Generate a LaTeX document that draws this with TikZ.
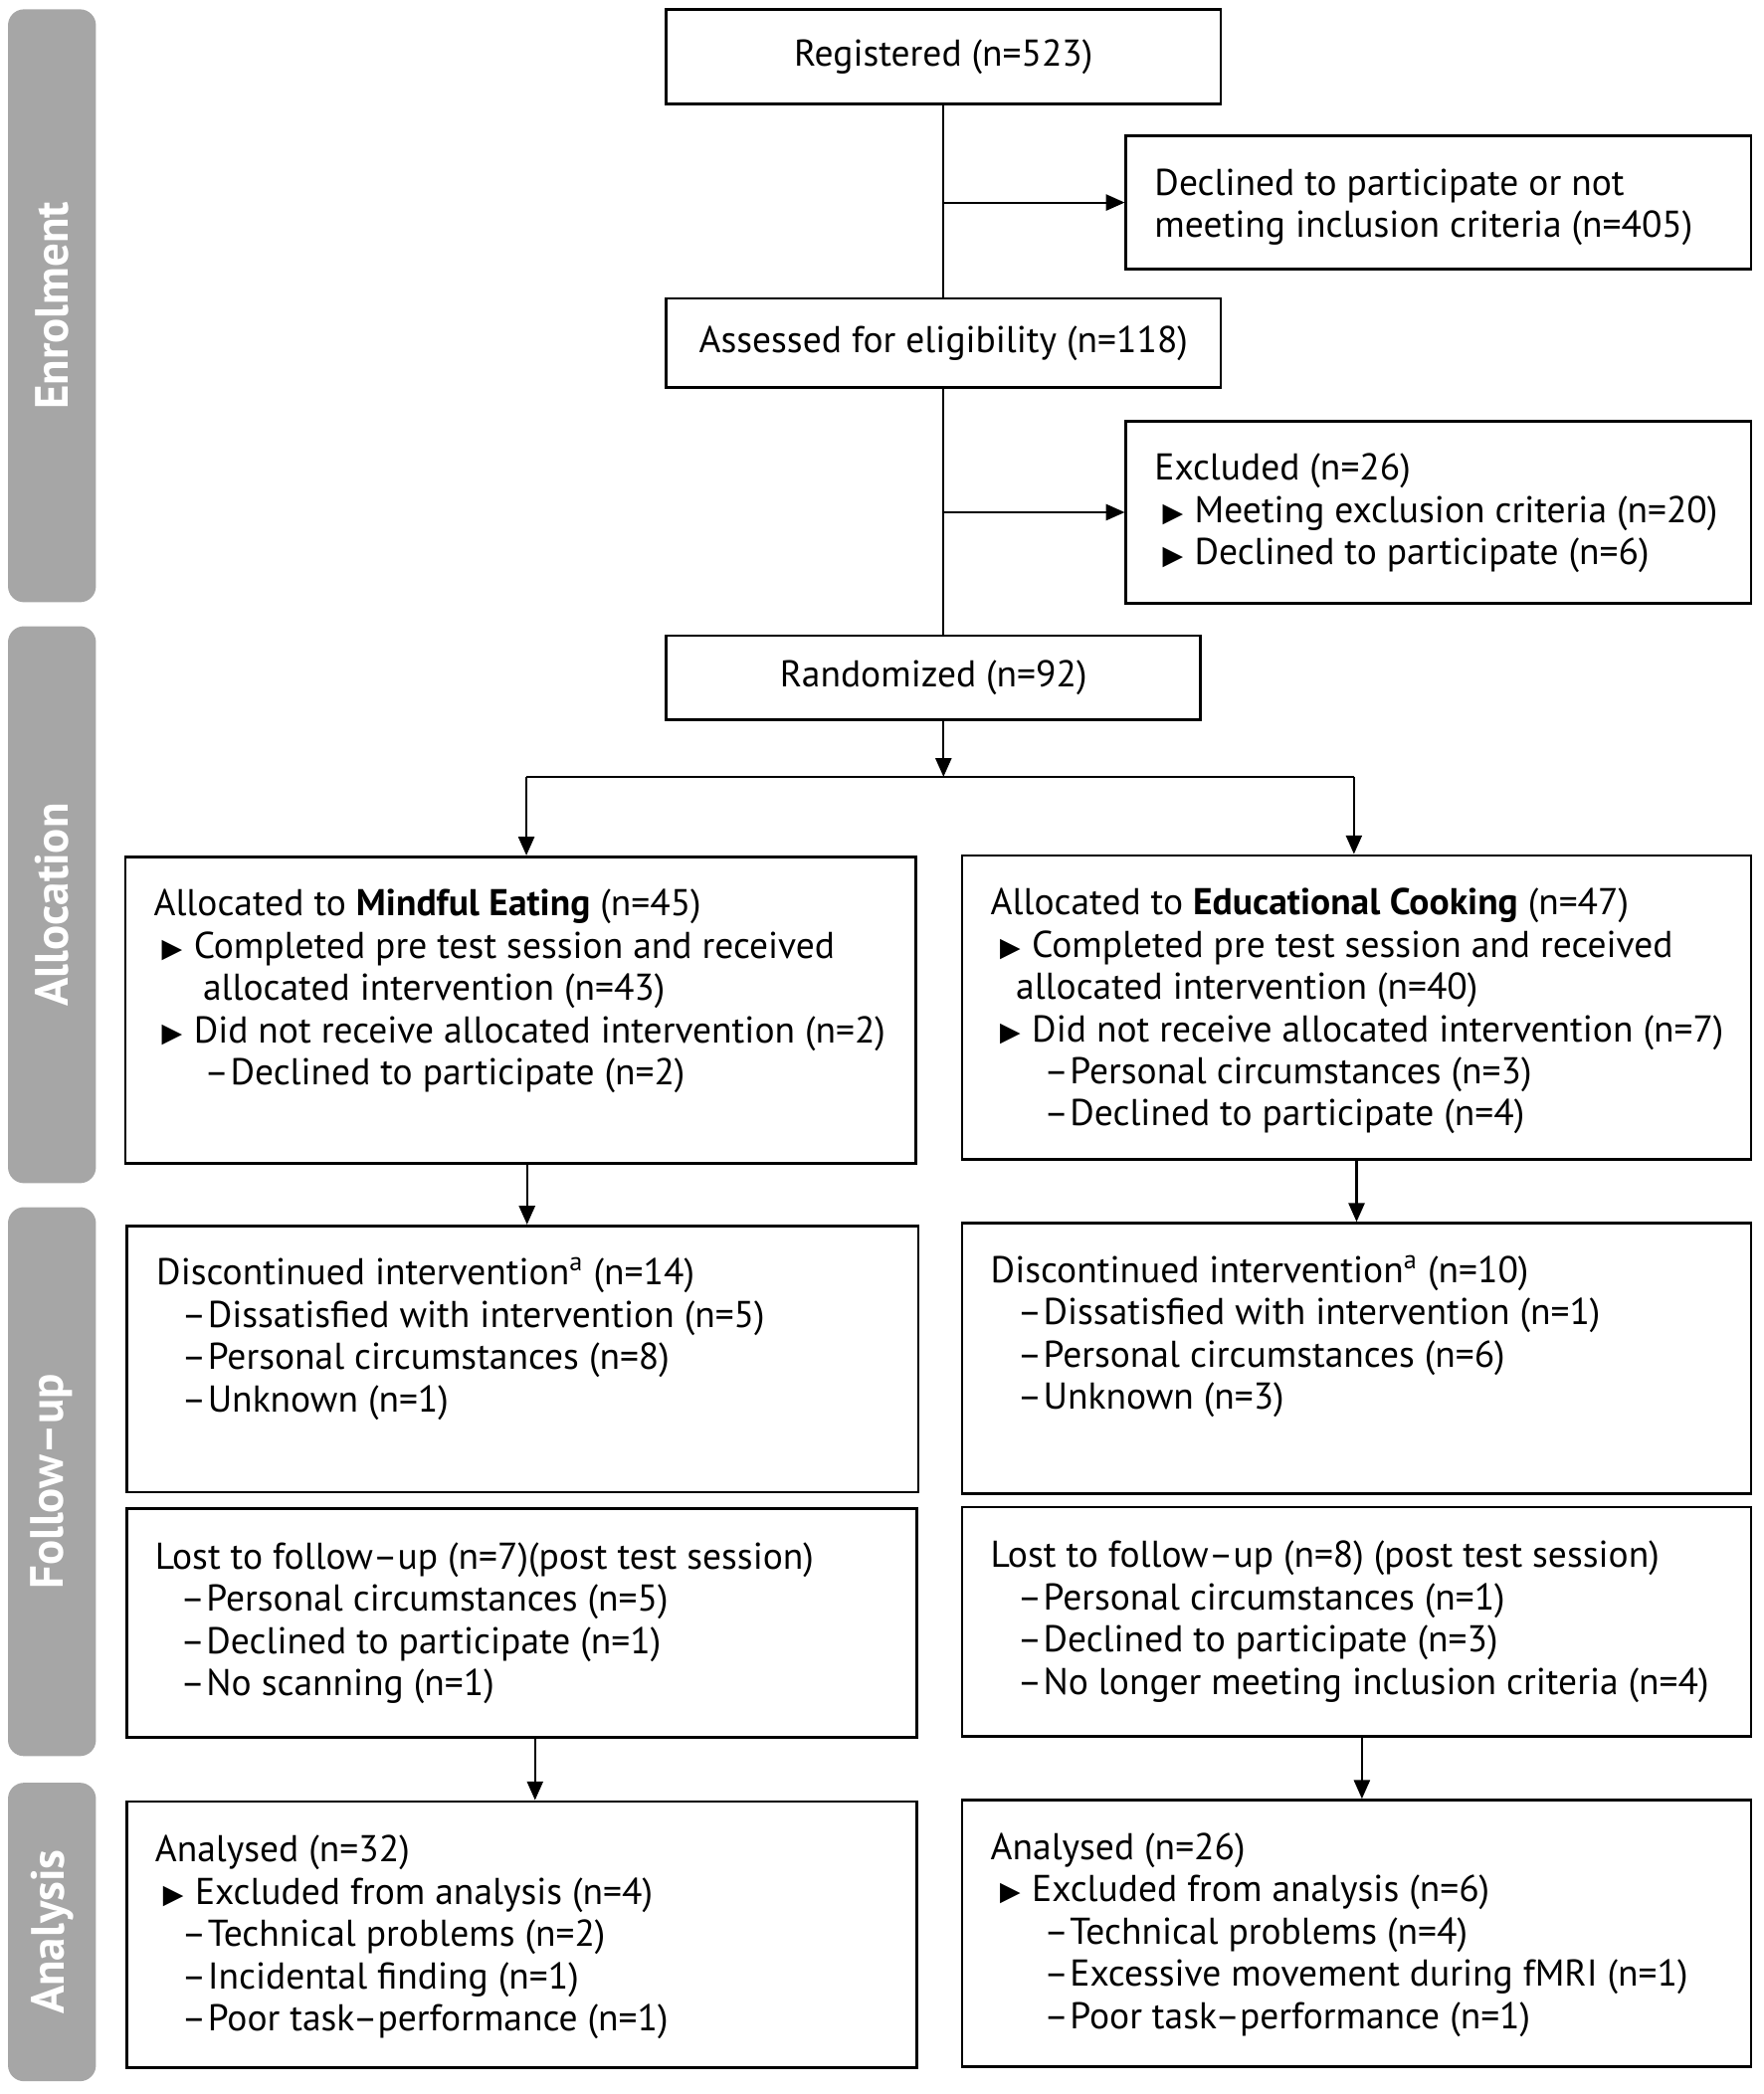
\documentclass[tikz,border=0pt]{standalone}
\usepackage{fontspec}
\setmainfont{PT Sans}
\newfontfamily\symfont{DejaVu Sans}
\usetikzlibrary{arrows.meta}
\definecolor{bandgray}{HTML}{A6A6A6}
\newcommand\tri{\makebox[12pt][l]{\raisebox{0.3pt}{\symfont\fontsize{10}{10}\selectfont ▶}}}
\newcommand\dsh{\makebox[9.75pt][l]{–}}
\tikzset{
  box/.style={draw, line width=1pt, inner sep=0pt},
  txt/.style={anchor=north west, inner sep=0pt, align=left, font=\fontsize{14}{15.85}\selectfont},
  ctxt/.style={font=\fontsize{14}{15.85}\selectfont},
  band/.style={fill=bandgray, rounded corners=6pt, inner sep=0pt, rotate=90, text=white, font=\fontsize{17.5}{18}\selectfont\bfseries},
  conn/.style={line width=0.8pt},
  arr/.style={line width=0.8pt, -{Triangle[length=7pt,width=6pt]}}
}
\begin{document}
\begin{tikzpicture}[x=0.5pt,y=-0.5pt]
\useasboundingbox (0,0) rectangle (1323,1571.6);
% side bands
\node[band, minimum width=222.5pt, minimum height=33pt] (bEnr) at (39,229.5) {Enrolment};
\node[band, minimum width=209pt, minimum height=33pt] (bAll) at (39,679) {Allocation};
\node[band, minimum width=206pt, minimum height=33pt] (bFol) at (39,1112) {Follow--up};
\node[band, minimum width=112pt, minimum height=33pt] (bAna) at (39,1450) {Analysis};
% top boxes
\node[box, ctxt, minimum width=208pt, minimum height=35.5pt] (reg) at (708,42.5) {Registered (n=523)};
\node[box, minimum width=234.5pt, minimum height=50pt] (dec) at (1079.5,152) {};
\node[txt] (decT) at (866,124) {\strut Declined to participate or not\\\strut meeting inclusion criteria (n=405)};
\node[box, ctxt, minimum width=208pt, minimum height=33.5pt] (ass) at (708,257.5) {Assessed for eligibility (n=118)};
\node[box, minimum width=234.5pt, minimum height=68.5pt] (exc) at (1079.5,384.5) {};
\node[txt] (excT) at (866,338) {\strut Excluded (n=26)\\\strut\hspace*{3pt}\tri Meeting exclusion criteria (n=20)\\\strut\hspace*{3pt}\tri Declined to participate (n=6)};
\node[box, ctxt, minimum width=200.5pt, minimum height=31.5pt] (rnd) at (700.5,508.5) {Randomized (n=92)};
% allocation
\node[box, minimum width=296.5pt, minimum height=115pt] (me) at (390.5,758) {};
\node[txt] (meT) at (115,665) {\strut Allocated to \textbf{Mindful Eating} (n=45)\\
\strut\hspace*{3pt}\tri Completed pre test session and received\\
\strut\hspace*{18.5pt}allocated intervention (n=43)\\
\strut\hspace*{3pt}\tri Did not receive allocated intervention (n=2)\\
\strut\hspace*{19pt}\dsh Declined to participate (n=2)};
\node[box, minimum width=296pt, minimum height=114pt] (ec) at (1018,756) {};
\node[txt] (ecT) at (743,664) {\strut Allocated to \textbf{Educational Cooking} (n=47)\\
\strut\hspace*{3.5pt}\tri Completed pre test session and received\\
\strut\hspace*{9.5pt}allocated intervention (n=40)\\
\strut\hspace*{3.5pt}\tri Did not receive allocated intervention (n=7)\\
\strut\hspace*{20pt}\dsh Personal circumstances (n=3)\\
\strut\hspace*{20pt}\dsh Declined to participate (n=4)};
% follow-up
\node[box, minimum width=297pt, minimum height=100pt] (dme) at (392,1020) {};
\node[txt] (dmeT) at (117,942) {\strut Discontinued intervention\textsuperscript{a} (n=14)\\
\strut\hspace*{9.5pt}\dsh Dissatisfied with intervention (n=5)\\
\strut\hspace*{9.5pt}\dsh Personal circumstances (n=8)\\
\strut\hspace*{9.5pt}\dsh Unknown (n=1)};
\node[box, minimum width=296pt, minimum height=101.5pt] (dec2) at (1018,1019.5) {};
\node[txt] (decT2) at (743,940) {\strut Discontinued intervention\textsuperscript{a} (n=10)\\
\strut\hspace*{10pt}\dsh Dissatisfied with intervention (n=1)\\
\strut\hspace*{10pt}\dsh Personal circumstances (n=6)\\
\strut\hspace*{10pt}\dsh Unknown (n=3)};
\node[box, minimum width=296.5pt, minimum height=86pt] (lme) at (391.5,1218) {};
\node[txt] (lmeT) at (116,1155) {\strut Lost to follow--up (n=7)(post test session)\\
\strut\hspace*{9.5pt}\dsh Personal circumstances (n=5)\\
\strut\hspace*{9.5pt}\dsh Declined to participate (n=1)\\
\strut\hspace*{9.5pt}\dsh No scanning (n=1)};
\node[box, minimum width=296pt, minimum height=86pt] (lec) at (1018,1217) {};
\node[txt] (lecT) at (743,1154) {\strut Lost to follow--up (n=8) (post test session)\\
\strut\hspace*{10pt}\dsh Personal circumstances (n=1)\\
\strut\hspace*{10pt}\dsh Declined to participate (n=3)\\
\strut\hspace*{10pt}\dsh No longer meeting inclusion criteria (n=4)};
% analysis
\node[box, minimum width=296.5pt, minimum height=100pt] (ame) at (391.5,1452) {};
\node[txt] (ameT) at (116,1375) {\strut Analysed (n=32)\\
\strut\hspace*{3pt}\tri Excluded from analysis (n=4)\\
\strut\hspace*{10pt}\dsh Technical problems (n=2)\\
\strut\hspace*{10pt}\dsh Incidental finding (n=1)\\
\strut\hspace*{10pt}\dsh Poor task--performance (n=1)};
\node[box, minimum width=296pt, minimum height=100pt] (aec) at (1018,1451) {};
\node[txt] (aecT) at (743,1373) {\strut Analysed (n=26)\\
\strut\hspace*{3.5pt}\tri Excluded from analysis (n=6)\\
\strut\hspace*{20pt}\dsh Technical problems (n=4)\\
\strut\hspace*{20pt}\dsh Excessive movement during fMRI (n=1)\\
\strut\hspace*{20pt}\dsh Poor task--performance (n=1)};
% connectors
\coordinate (b1) at (708,152);
\coordinate (b2) at (708,384.5);
\coordinate (sp) at (708,583);
\coordinate (spl) at (395,583);
\coordinate (spr) at (1016,583);
\draw[conn] (reg.south) -- (ass.north);
\draw[arr] (b1) -- (dec.west);
\draw[conn] (ass.south) -- (ass.south |- rnd.north);
\draw[arr] (b2) -- (exc.west);
\draw[arr] (ass.south |- rnd.south) -- (sp);
\draw[conn] (spl) -- (spr);
\draw[arr] (spl) -- (spl |- me.north);
\draw[arr] (spr) -- (spr |- ec.north);
\draw[arr] ([xshift=2.5pt]me.south) -- ([xshift=2.5pt]me.south |- dme.north);
\draw[arr] (ec.south) -- (ec.south |- dec2.north);
\draw[arr] ([xshift=5pt]lme.south) -- ([xshift=5pt]lme.south |- ame.north);
\draw[arr] ([xshift=2pt]lec.south) -- ([xshift=2pt]lec.south |- aec.north);
\end{tikzpicture}
\end{document}
